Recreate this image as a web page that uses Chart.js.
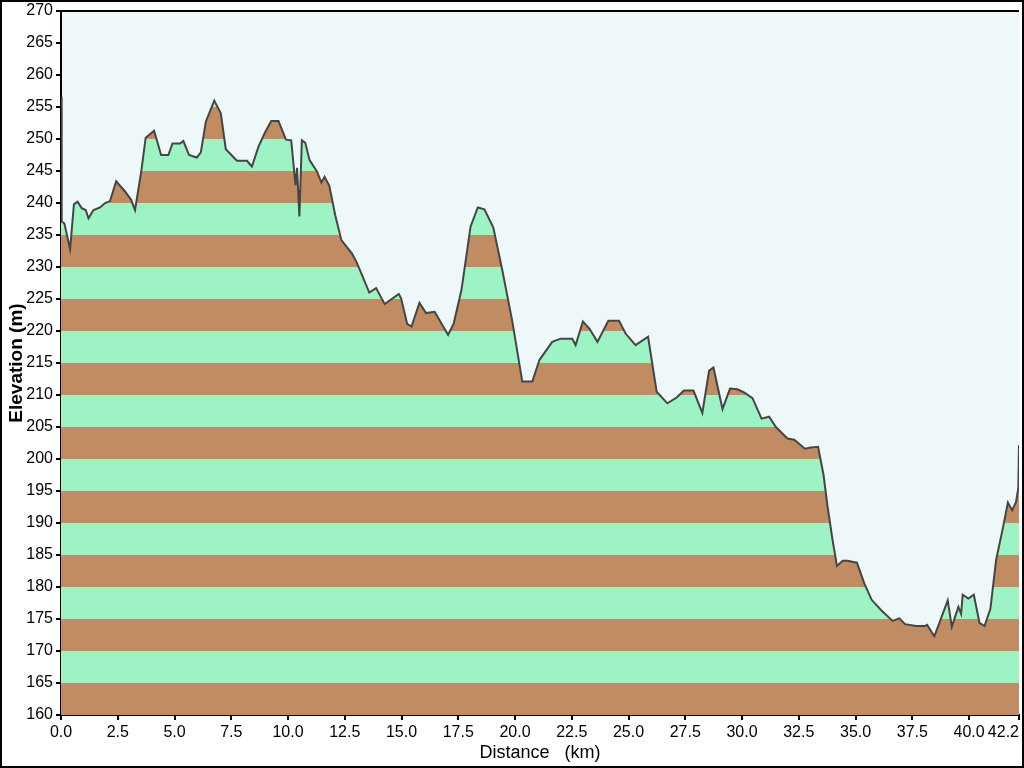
<!DOCTYPE html>
<html>
<head>
<meta charset="utf-8">
<script src="https://cdn.jsdelivr.net/npm/chart.js"></script>
<style>
  html, body { margin: 0; padding: 0; background: #ffffff; }
  canvas { display: block; }
</style>
</head>
<body>
<canvas id="c" width="1024" height="768"></canvas>
<script>
// Distance along the course (km)
const distanceKm = [
  0.00, 0.03, 0.15, 0.40, 0.57, 0.73, 0.91, 1.09, 1.21, 1.43, 1.72, 1.94, 2.16, 2.43, 2.82, 3.09, 3.26,
  3.53, 3.73, 4.10, 4.41, 4.73, 4.91, 5.25, 5.39, 5.64, 5.98, 6.16, 6.38, 6.75, 7.04, 7.26, 7.75, 8.19,
  8.41, 8.70, 8.97, 9.26, 9.58, 9.91, 10.14, 10.33, 10.40, 10.50, 10.61, 10.76, 10.95, 11.28, 11.47,
  11.61, 11.82, 12.08, 12.35, 12.82, 13.04, 13.58, 13.88, 14.26, 14.88, 14.98, 15.25, 15.44, 15.79,
  16.08, 16.46, 17.05, 17.30, 17.64, 18.04, 18.36, 18.65, 19.04, 19.44, 19.88, 20.32, 20.76, 21.08,
  21.64, 22.01, 22.52, 22.67, 22.99, 23.29, 23.63, 24.11, 24.58, 24.87, 25.31, 25.86, 26.24, 26.71,
  27.12, 27.44, 27.86, 28.25, 28.55, 28.74, 29.14, 29.47, 29.79, 30.09, 30.46, 30.86, 31.19, 31.49,
  32.00, 32.30, 32.77, 33.03, 33.35, 33.59, 33.77, 33.99, 34.18, 34.43, 34.65, 35.06, 35.38, 35.71,
  36.12, 36.63, 36.93, 37.18, 37.66, 38.06, 38.15, 38.47, 38.80, 39.06, 39.24, 39.53, 39.65, 39.72,
  39.97, 40.21, 40.46, 40.68, 40.94, 41.19, 41.49, 41.71, 41.90, 42.07, 42.17, 42.20
];
// Elevation (m)
const elevationM = [
  256.6, 237.1, 236.8, 232.8, 239.8, 240.2, 239.2, 238.9, 237.6, 238.9, 239.3, 240.0, 240.3, 243.4, 241.8, 240.5, 238.9,
  244.8, 250.2, 251.3, 247.5, 247.5, 249.3, 249.3, 249.7, 247.5, 247.1, 247.9, 252.7, 256.0, 254.0, 248.4, 246.6, 246.6,
  245.7, 248.8, 250.9, 252.8, 252.8, 249.9, 249.8, 242.8, 245.5, 237.9, 249.8, 249.4, 246.7, 244.9, 243.2,
  244.1, 242.7, 238.1, 234.2, 232.1, 230.6, 226.0, 226.7, 224.2, 225.8, 225.1, 221.1, 220.7, 224.4,
  222.8, 223.0, 219.4, 221.2, 226.4, 236.3, 239.3, 239.0, 236.2, 229.5, 221.5, 212.1, 212.1, 215.5,
  218.3, 218.8, 218.8, 217.8, 221.5, 220.3, 218.3, 221.6, 221.6, 219.6, 217.8, 219.1, 210.5, 208.7,
  209.6, 210.7, 210.7, 207.2, 213.8, 214.3, 207.8, 211.0, 210.9, 210.4, 209.5, 206.3, 206.6, 205.0,
  203.2, 203.0, 201.6, 201.8, 201.9, 197.5, 192.5, 187.3, 183.3, 184.1, 184.1, 183.8, 180.6, 178.0,
  176.4, 174.7, 175.1, 174.2, 173.9, 173.9, 174.1, 172.3, 175.4, 177.9, 173.8, 176.9, 175.8, 178.8,
  178.2, 178.8, 174.4, 173.9, 176.6, 184.2, 189.2, 193.2, 192.0, 193.3, 195.5, 202.2
];
// Tick values
const xTicks = [0, 2.5, 5, 7.5, 10, 12.5, 15, 17.5, 20, 22.5, 25, 27.5, 30, 32.5, 35, 37.5, 40, 42.2];
const yMin = 160, yMax = 270, yStep = 5;

const BROWN = '#c28c62';
const GREEN = '#9ef3c4';
const PLOT_BG = '#eff8f8';
const FONT = '"Liberation Sans", Arial, sans-serif';

const points = distanceKm.map((d, i) => ({ x: d, y: elevationM[i] }));

function stripeFill(context) {
  const chart = context.chart;
  const area = chart.chartArea;
  if (!area) return BROWN;
  const ys = chart.scales.y;
  const y0 = ys.getPixelForValue(yMin);
  const y1 = ys.getPixelForValue(yMax);
  const g = chart.ctx.createLinearGradient(0, y0, 0, y1);
  const span = yMax - yMin;
  for (let v = yMin, k = 0; v < yMax; v += yStep, k++) {
    const c = (k % 2 === 0) ? BROWN : GREEN;
    g.addColorStop((v - yMin) / span, c);
    g.addColorStop(Math.min(1, (v + yStep - yMin) / span - 1e-6), c);
  }
  return g;
}

const framePlugin = {
  id: 'frame',
  beforeDraw(chart) {
    const { ctx, chartArea: a } = chart;
    ctx.save();
    ctx.fillStyle = PLOT_BG;
    ctx.fillRect(a.left, a.top, a.right - a.left, a.bottom - a.top);
    ctx.restore();
  },
  afterDraw(chart) {
    const { ctx, chartArea: a, width, height } = chart;
    ctx.save();
    ctx.strokeStyle = '#000';
    ctx.lineWidth = 2;
    ctx.beginPath();
    ctx.moveTo(a.left, a.top);
    ctx.lineTo(a.right, a.top);
    ctx.stroke();
    ctx.strokeRect(1, 1, width - 2, height - 2);
    ctx.restore();
  }
};

new Chart(document.getElementById('c'), {
  type: 'line',
  data: {
    datasets: [{
      data: points,
      borderColor: '#454545',
      borderWidth: 2,
      pointRadius: 0,
      tension: 0,
      fill: 'start',
      backgroundColor: stripeFill
    }]
  },
  options: {
    responsive: false,
    animation: false,
    layout: { padding: { top: 11, right: 5, left: 0, bottom: 0 } },
    plugins: { legend: { display: false }, tooltip: { enabled: false } },
    scales: {
      x: {
        type: 'linear',
        min: 0,
        max: 42.2,
        afterBuildTicks(scale) { scale.ticks = xTicks.map(v => ({ value: v })); },
        afterFit(scale) { scale.height = 53; scale.paddingLeft = 0; scale.paddingRight = 0; },
        ticks: {
          autoSkip: false,
          maxRotation: 0,
          padding: 3,
          color: '#000',
          font: { family: FONT, size: 16 },
          callback: (v) => v === 42.2 ? '42.2       ' : Number(v).toFixed(1)
        },
        grid: { drawOnChartArea: false, drawTicks: true, tickLength: 5, color: '#000', lineWidth: 2 },
        border: { display: true, color: '#000', width: 2 },
        title: {
          display: true,
          text: 'Distance   (km)',
          color: '#000',
          font: { family: FONT, size: 18 },
          padding: { top: 0, bottom: 4 }
        }
      },
      y: {
        min: yMin,
        max: yMax,
        afterFit(scale) { scale.width = 61; scale.paddingTop = 0; scale.paddingBottom = 0; },
        ticks: {
          stepSize: yStep,
          padding: 3,
          color: '#000',
          font: { family: FONT, size: 16 },
          callback: (v) => String(v)
        },
        grid: { drawOnChartArea: false, drawTicks: true, tickLength: 5, color: '#000', lineWidth: 2 },
        border: { display: true, color: '#000', width: 2 },
        title: {
          display: true,
          text: 'Elevation (m)',
          color: '#000',
          font: { family: FONT, size: 19, weight: 'bold' },
          padding: { top: 5, bottom: 0 }
        }
      }
    }
  },
  plugins: [framePlugin]
});
</script>
</body>
</html>
